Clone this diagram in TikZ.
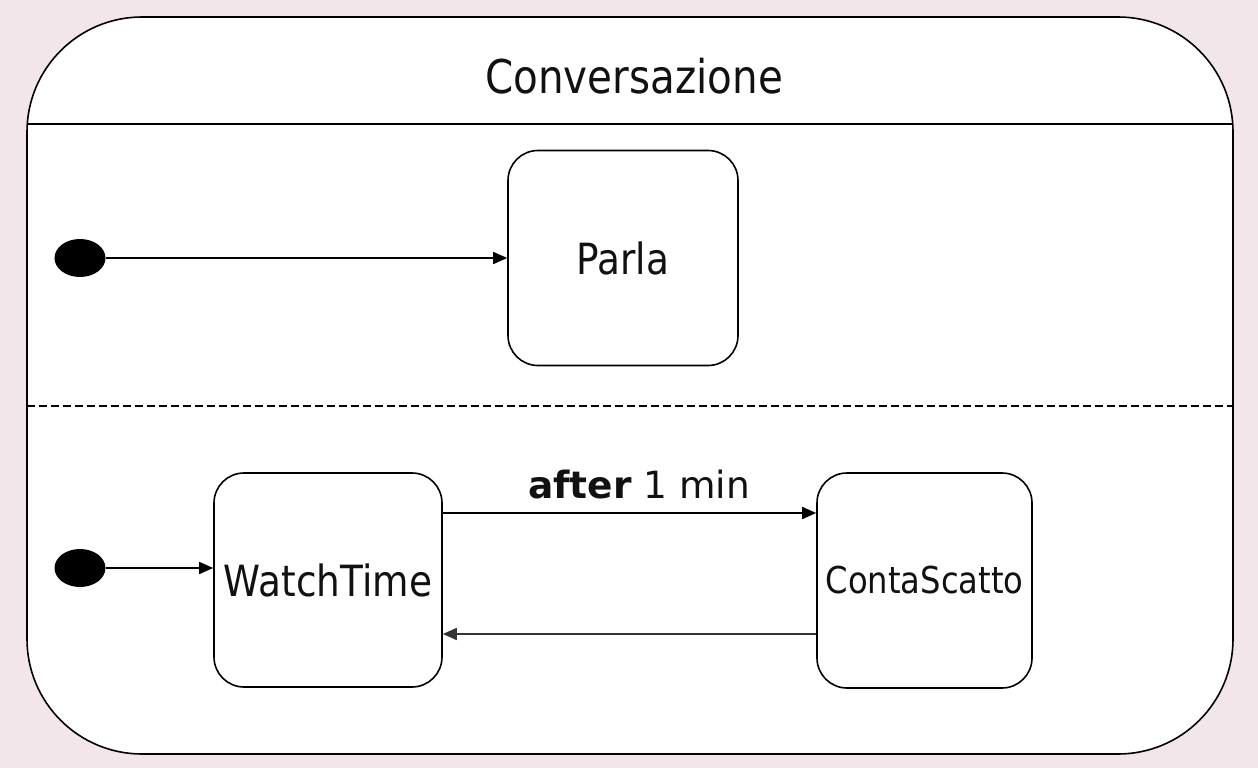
\documentclass[tikz,border=0pt]{standalone}
\usepackage{fontspec}
\setmainfont{DejaVu Sans}
\newfontfamily\statefont{DejaVu Sans}[FakeStretch=0.87]
\usetikzlibrary{arrows.meta,shapes.geometric}
\definecolor{bgpink}{HTML}{F2E6EA}
\definecolor{inkgray}{HTML}{111111}
\tikzset{
	state/.style={draw, line width=1.6pt, rounded corners=30pt, fill=white, inner sep=0pt, text=inkgray},
	initdot/.style={ellipse, fill=black, minimum width=51pt, minimum height=38pt, inner sep=0pt},
	trans/.style={line width=1.6pt, -{Triangle[length=14pt,width=12pt]}}
}
\begin{document}
\begin{tikzpicture}[x=1pt,y=-1pt]
	\def\boxl{27};
	\def\boxr{1233};
	\fill[bgpink] (0,0) rectangle (1258,768);
	\useasboundingbox (0,0) rectangle (1258,768);
	\node[draw, line width=1.6pt, rounded corners=115pt, fill=white, minimum width=1206pt, minimum height=737pt, inner sep=0pt] (conv) at (630,385.5) {};
	\node[anchor=base, text=inkgray] (convtitle) at (634,93) {\statefont\fontsize{46.5}{50}\selectfont Conversazione};
	\draw[line width=1.6pt] (\boxl,124) -- (\boxr,124);
	\draw[line width=1.6pt, dash pattern=on 8pt off 4pt] (\boxl,406) -- (\boxr,406);

	% upper region
	\node[initdot] (init1) at (80,258) {};
	\node[state, minimum width=230pt, minimum height=215pt] (parla) at (623,258) {\statefont\fontsize{43}{48}\selectfont Parla};
	\draw[trans] (init1) -- (parla);

	% lower region
	\node[initdot] (init2) at (80,568) {};
	\node[state, minimum width=228pt, minimum height=214pt] (watch) at (328,580) {\statefont\fontsize{43}{48}\selectfont WatchTime};
	\node[state, minimum width=215pt, minimum height=215pt] (conta) at (924.5,580.5) {\statefont\fontsize{37}{42}\selectfont ContaScatto};
	\draw[trans] (init2.east) -- (init2.east -| watch.west);
	\draw[trans] ([yshift=67pt]watch.east) -- ([yshift=67pt]watch.east -| conta.west);
	\draw[trans, draw=black!80] ([yshift=-54pt]watch.east -| conta.west) -- ([yshift=-54pt]watch.east);
	\node[anchor=base, text=inkgray] (afterlbl) at (639,498) {\fontsize{37.5}{42}\selectfont\textbf{after} 1 min};
\end{tikzpicture}
\end{document}
